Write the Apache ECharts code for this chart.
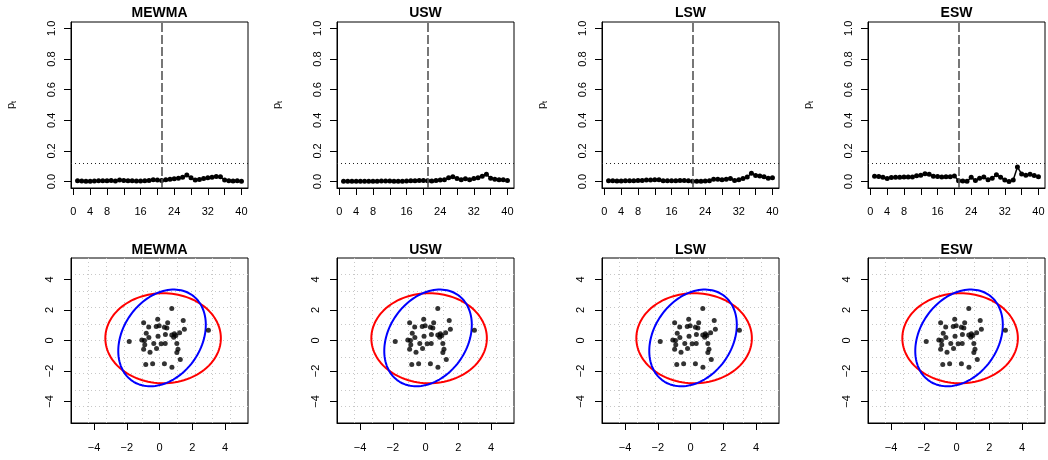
<!DOCTYPE html>
<html><head><meta charset="utf-8">
<script src="https://cdn.jsdelivr.net/npm/echarts@6/dist/echarts.min.js"></script>
<style>html,body{margin:0;padding:0;background:#fff}#c{width:1048px;height:460px}</style>
</head><body><div id="c"></div>
<script>
// ---------------- data ----------------
const panelTitles = ['MEWMA', 'USW', 'LSW', 'ESW'];
const timeIndex = [1,2,3,4,5,6,7,8,9,10,11,12,13,14,15,16,17,18,19,20,21,22,23,24,25,26,27,28,29,30,31,32,33,34,35,36,37,38,39,40];
const pMEWMA = [0.005,0.004,0.003,0.003,0.004,0.005,0.005,0.006,0.008,0.004,0.010,0.007,0.006,0.005,0.004,0.004,0.005,0.008,0.013,0.010,0.008,0.012,0.015,0.018,0.022,0.028,0.043,0.025,0.010,0.014,0.020,0.026,0.028,0.033,0.032,0.010,0.005,0.004,0.005,0.003];
const pUSW = [0.002,0.002,0.002,0.002,0.002,0.003,0.003,0.003,0.003,0.004,0.004,0.004,0.003,0.003,0.003,0.004,0.005,0.006,0.007,0.007,0.005,0.004,0.008,0.010,0.012,0.025,0.032,0.020,0.012,0.018,0.012,0.020,0.025,0.035,0.048,0.022,0.015,0.013,0.012,0.008];
const pLSW = [0.005,0.005,0.004,0.004,0.005,0.005,0.005,0.007,0.007,0.010,0.011,0.012,0.012,0.006,0.006,0.006,0.006,0.007,0.007,0.005,0.003,0.003,0.003,0.004,0.005,0.015,0.016,0.013,0.015,0.020,0.008,0.012,0.020,0.030,0.055,0.040,0.036,0.032,0.022,0.025];
const pESW = [0.035,0.033,0.028,0.020,0.027,0.028,0.028,0.030,0.030,0.030,0.038,0.042,0.052,0.048,0.035,0.033,0.030,0.032,0.032,0.036,0.005,0.004,0.002,0.028,0.007,0.022,0.030,0.012,0.022,0.045,0.028,0.010,0.000,0.010,0.095,0.050,0.042,0.048,0.040,0.032];
const pSeries = [pMEWMA, pUSW, pLSW, pESW];
const changePoint = 21;
const threshold = 0.12;
const topXTicks = [0,4,8,12,16,20,24,28,32,36,40];
const topXLabels = [0,4,8,16,24,32,40];
const topYTicks = [0,0.2,0.4,0.6,0.8,1.0];

const obsX = [0.75,-0.97,-0.66,-0.11,-0.20,-0.02,0.30,0.45,0.50,1.45,1.52,1.23,0.91,0.75,1.00,0.87,0.36,-0.09,-0.81,-0.65,-1.85,-1.08,-0.92,-0.90,-0.35,0.10,0.35,1.06,-0.97,-0.58,-0.18,1.13,1.06,1.27,-0.84,-0.42,0.30,0.76,2.99];
const obsY = [2.10,1.16,0.89,1.39,0.92,0.96,0.87,0.82,1.16,1.31,0.73,0.50,0.44,0.36,0.33,0.22,0.39,0.28,0.48,0.20,-0.06,0.04,0.00,-0.28,-0.20,-0.21,-0.20,-0.20,-0.57,-0.77,-0.52,-0.57,-0.78,-1.25,-1.58,-1.52,-1.53,-1.76,0.68];
const botTicks = [-4,-2,0,2,4];
// ellipses: [centerX, centerY, halfWidthX, halfHeightY, correlation]
const redEllipse = [0.22, 0.15, 3.53, 2.95, 0.0];
const blueEllipse = [0.155, 0.17, 2.675, 3.17, 0.27];

// ---------------- layout ----------------
const colLeft = [71, 337, 602, 868];
const boxW = 177;
const topY = 22, topH = 166, botY = 258, botH = 165;
const FONT = "'Liberation Sans', Arial, Helvetica, sans-serif";

function ellipsePts(e) {
  const [cx, cy, a, b, r] = e, d = Math.acos(r), pts = [];
  for (let i = 0; i <= 240; i++) {
    const t = i / 240 * 2 * Math.PI;
    pts.push([cx + a * Math.cos(t), cy + b * Math.cos(t - d)]);
  }
  return pts;
}
const minus = v => String(v).replace('-', '\u2212');

const grids = [], xAxes = [], yAxes = [], series = [], graphics = [];
const lbl = () => ({color: '#000', fontSize: 11, fontFamily: FONT});
const tick = vals => ({show: true, length: 7, customValues: vals, lineStyle: {color: '#000', width: 1}});
const blackLine = () => ({show: true, onZero: false, lineStyle: {color: '#000', width: 1}});
const noLine = () => ({show: false, onZero: false});

for (let i = 0; i < 4; i++) {
  grids.push({left: colLeft[i], top: topY, width: boxW, height: topH, show: true,
    borderColor: '#000', borderWidth: 1});
}
for (let i = 0; i < 4; i++) {
  grids.push({left: colLeft[i], top: botY, width: boxW, height: botH, show: true,
    borderColor: '#000', borderWidth: 1});
}
// top axes
for (let i = 0; i < 4; i++) {
  xAxes.push({type: 'value', gridIndex: i, min: -0.56, max: 41.56, axisLine: blackLine(),
    axisTick: tick(topXTicks),
    axisLabel: Object.assign({customValues: topXLabels, margin: 18}, lbl()),
    splitLine: {show: false}});
  yAxes.push({type: 'value', gridIndex: i, min: -0.0416, max: 1.0416, axisLine: blackLine(),
    axisTick: tick(topYTicks),
    axisLabel: Object.assign({customValues: topYTicks, margin: 14, rotate: 90, formatter: v => v.toFixed(1)}, lbl()),
    splitLine: {show: false}});
  series.push({type: 'line', xAxisIndex: i, yAxisIndex: i,
    data: timeIndex.map((t, k) => [t, pSeries[i][k]]),
    symbol: 'circle', symbolSize: 5, showSymbol: true, color: '#000',
    itemStyle: {color: '#000'}, lineStyle: {color: '#000', width: 1.5}, z: 3,
    markLine: {silent: true, symbol: 'none', label: {show: false}, animation: false,
      data: [
        {xAxis: changePoint, lineStyle: {color: '#555', width: 1.6, type: [9, 3]}},
        {yAxis: threshold, lineStyle: {color: '#222', width: 1, type: [1, 3]}}
      ]}});
  graphics.push({type: 'text', x: colLeft[i] + boxW / 2, y: 13, style: {text: panelTitles[i],
    font: "bold 14px " + FONT, fill: '#000', align: 'center', verticalAlign: 'middle'}});
  graphics.push({type: 'text', x: colLeft[i] - 60, y: 105, rotation: Math.PI / 2, style: {
    text: '{p|p}{s|t}', align: 'center', verticalAlign: 'middle',
    rich: {p: {fontSize: 11, fontFamily: FONT, fill: '#000'}, s: {fontSize: 7, fontFamily: FONT, fill: '#000', verticalAlign: 'bottom', padding: [6, 0, 0, 0]}}}});
}
// bottom axes
for (let i = 0; i < 4; i++) {
  const g = 4 + i;
  xAxes.push({type: 'value', gridIndex: g, min: -5.408, max: 5.408, axisLine: blackLine(),
    axisTick: tick(botTicks),
    axisLabel: Object.assign({customValues: botTicks, margin: 19, formatter: minus}, lbl()),
    splitLine: {show: false}});
  yAxes.push({type: 'value', gridIndex: g, min: -5.408, max: 5.408, axisLine: blackLine(),
    axisTick: tick(botTicks),
    axisLabel: Object.assign({customValues: botTicks, margin: 16, rotate: 90, formatter: minus}, lbl()),
    splitLine: {show: false}});
}
// bottom grid-line helper axes (10 equal divisions)
for (let i = 0; i < 4; i++) {
  const g = 4 + i;
  const gl = {show: true, lineStyle: {color: '#c8c8c8', width: 1, type: [1, 3]}, showMinLine: false, showMaxLine: false};
  xAxes.push({type: 'value', gridIndex: g, position: 'top', min: 0, max: 10, interval: 1, axisLine: noLine(),
    axisTick: {show: false}, axisLabel: {show: false}, splitLine: gl});
  yAxes.push({type: 'value', gridIndex: g, position: 'right', min: 0, max: 10, interval: 1, axisLine: noLine(),
    axisTick: {show: false}, axisLabel: {show: false}, splitLine: gl});
}
for (let i = 0; i < 4; i++) {
  const ax = 4 + i;
  series.push({type: 'line', xAxisIndex: ax, yAxisIndex: ax, data: ellipsePts(redEllipse),
    showSymbol: false, symbol: 'none', lineStyle: {color: '#ff0000', width: 2}, z: 3});
  series.push({type: 'line', xAxisIndex: ax, yAxisIndex: ax, data: ellipsePts(blueEllipse),
    showSymbol: false, symbol: 'none', lineStyle: {color: '#0000ff', width: 2}, z: 3});
  series.push({type: 'scatter', xAxisIndex: ax, yAxisIndex: ax, data: obsX.map((x, k) => [x, obsY[k]]),
    symbol: 'circle', symbolSize: 5, itemStyle: {color: '#000'}, z: 4});
  graphics.push({type: 'text', x: colLeft[i] + boxW / 2, y: 250, style: {text: panelTitles[i],
    font: "bold 14px " + FONT, fill: '#000', align: 'center', verticalAlign: 'middle'}});
}

const chart = echarts.init(document.getElementById('c'), null, {renderer: 'canvas'});
chart.setOption({animation: false, backgroundColor: '#fff', grid: grids, xAxis: xAxes, yAxis: yAxes,
  series: series, graphic: graphics});
</script></body></html>
